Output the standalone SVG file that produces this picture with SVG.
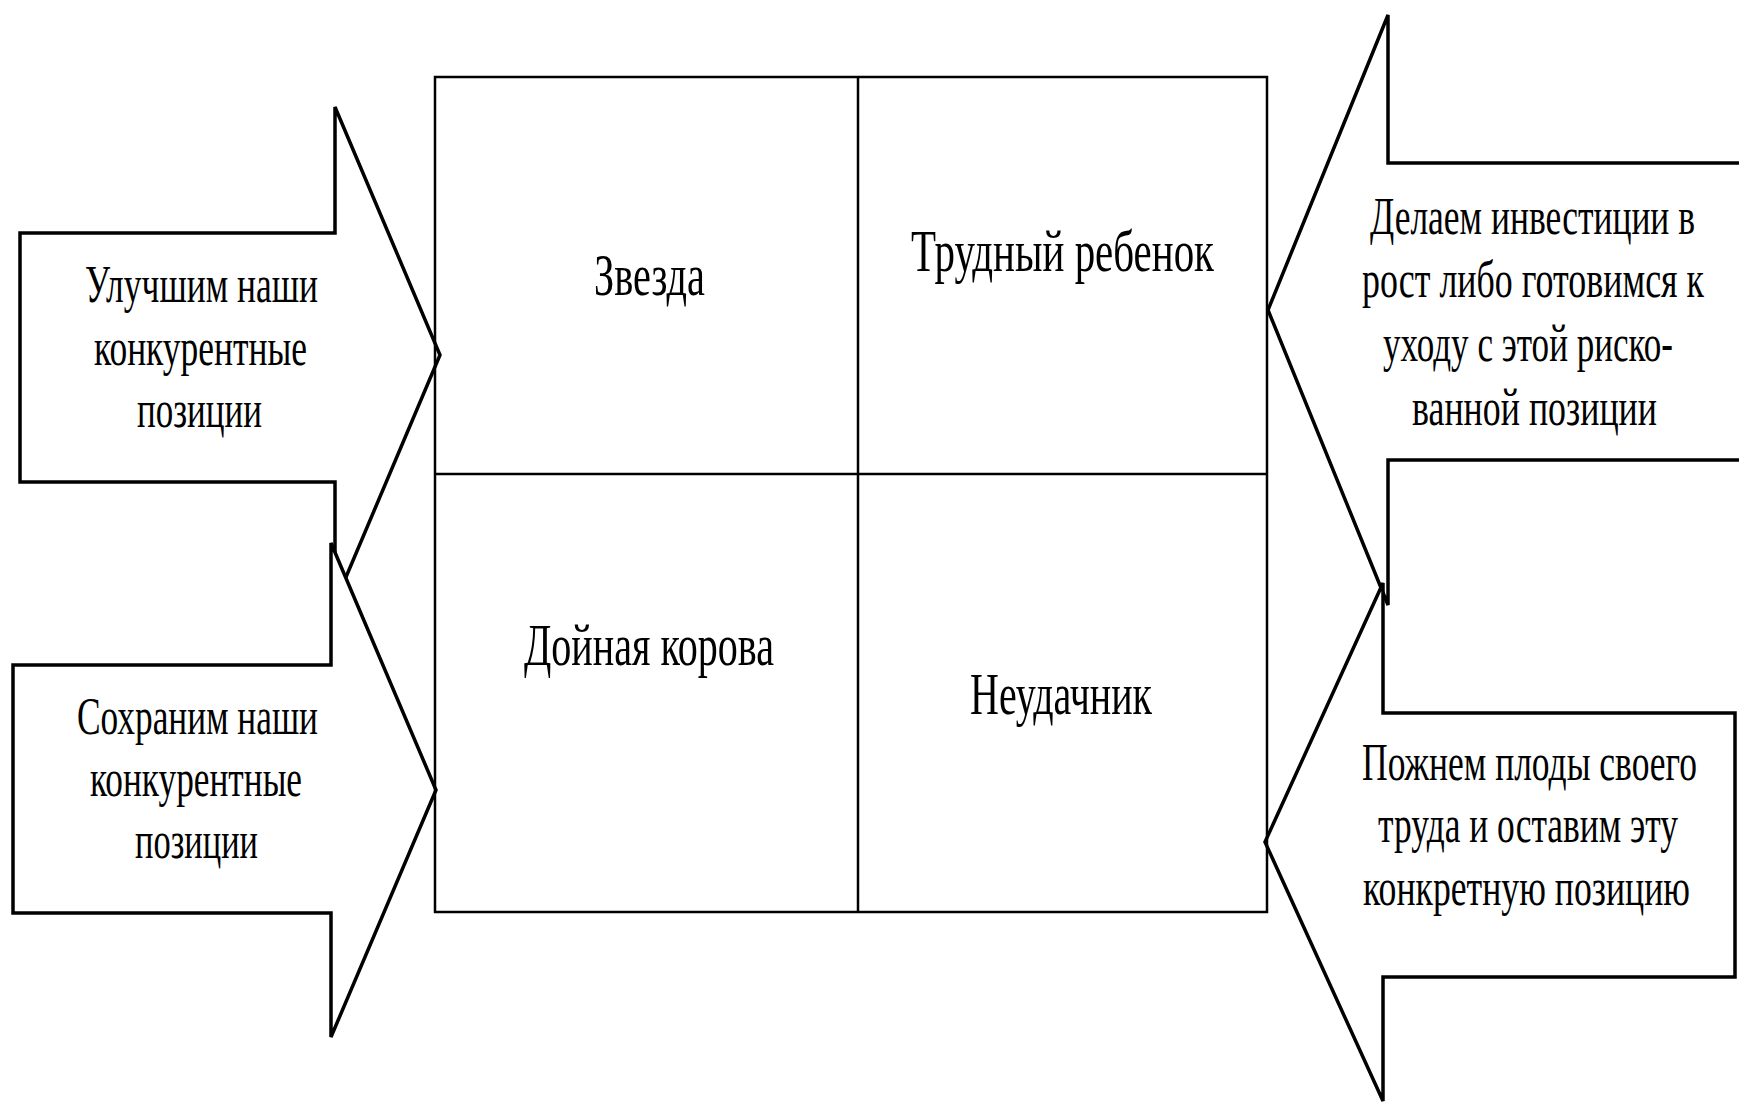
<svg xmlns="http://www.w3.org/2000/svg" width="1739" height="1110" viewBox="0 0 1739 1110">
<style>
.arrow{fill:#fff;stroke:#000;stroke-width:3.5;stroke-linejoin:miter}
.grid{fill:none;stroke:#000;stroke-width:2.5}
.t{font-family:"Liberation Serif","Times New Roman",serif;fill:#000;text-anchor:middle}
.a{font-size:36px}
.g{font-size:40px}
</style>
<rect width="1739" height="1110" fill="#fff"/>
<g id="arrow-improve">
<polygon class="arrow" points="20,233 335,233 335,107 440,355 335,603 335,482 20,482"/>
<text class="t a" transform="translate(201.5,302) scale(1,1.45)" textLength="233" lengthAdjust="spacingAndGlyphs">Улучшим наши</text>
<text class="t a" transform="translate(200.5,365) scale(1,1.45)" textLength="213" lengthAdjust="spacingAndGlyphs">конкурентные</text>
<text class="t a" transform="translate(199.5,427) scale(1,1.45)" textLength="125" lengthAdjust="spacingAndGlyphs">позиции</text>
</g>
<g id="arrow-keep">
<polygon class="arrow" points="13,665 331,665 331,543 436,790 331,1037 331,913 13,913"/>
<text class="t a" transform="translate(197.5,734) scale(1,1.45)" textLength="241" lengthAdjust="spacingAndGlyphs">Сохраним наши</text>
<text class="t a" transform="translate(196,796) scale(1,1.45)" textLength="212" lengthAdjust="spacingAndGlyphs">конкурентные</text>
<text class="t a" transform="translate(196.5,858) scale(1,1.45)" textLength="123" lengthAdjust="spacingAndGlyphs">позиции</text>
</g>
<g id="arrow-invest">
<polygon class="arrow" points="1748,163 1388,163 1388,15 1268,310 1388,605 1388,460 1748,460"/>
<text class="t a" transform="translate(1532.5,234) scale(1,1.45)" textLength="325" lengthAdjust="spacingAndGlyphs">Делаем инвестиции в</text>
<text class="t a" transform="translate(1533,297) scale(1,1.45)" textLength="342" lengthAdjust="spacingAndGlyphs">рост либо готовимся к</text>
<text class="t a" transform="translate(1528,361) scale(1,1.45)" textLength="290" lengthAdjust="spacingAndGlyphs">уходу с этой риско-</text>
<text class="t a" transform="translate(1534.5,425) scale(1,1.45)" textLength="245" lengthAdjust="spacingAndGlyphs">ванной позиции</text>
</g>
<g id="arrow-harvest">
<polygon class="arrow" points="1735,713 1383,713 1383,583 1265,842 1383,1101 1383,977 1735,977"/>
<text class="t a" transform="translate(1529.5,780) scale(1,1.45)" textLength="335" lengthAdjust="spacingAndGlyphs">Пожнем плоды своего</text>
<text class="t a" transform="translate(1528,842) scale(1,1.45)" textLength="300" lengthAdjust="spacingAndGlyphs">труда и оставим эту</text>
<text class="t a" transform="translate(1526.5,905) scale(1,1.45)" textLength="327" lengthAdjust="spacingAndGlyphs">конкретную позицию</text>
</g>
<g id="matrix">
<rect class="grid" x="435" y="77" width="832" height="835"/>
<line class="grid" x1="858" y1="77" x2="858" y2="912"/>
<line class="grid" x1="435" y1="474" x2="1267" y2="474"/>
</g>
<g id="cell-star"><text class="t g" transform="translate(649.5,295) scale(1,1.47)" textLength="111" lengthAdjust="spacingAndGlyphs">Звезда</text></g>
<g id="cell-question"><text class="t g" transform="translate(1062.5,271) scale(1,1.47)" textLength="303" lengthAdjust="spacingAndGlyphs">Трудный ребенок</text></g>
<g id="cell-cow"><text class="t g" transform="translate(649,665) scale(1,1.47)" textLength="250" lengthAdjust="spacingAndGlyphs">Дойная корова</text></g>
<g id="cell-dog"><text class="t g" transform="translate(1061,714) scale(1,1.47)" textLength="182" lengthAdjust="spacingAndGlyphs">Неудачник</text></g>
<g id="connectors"></g>
</svg>
